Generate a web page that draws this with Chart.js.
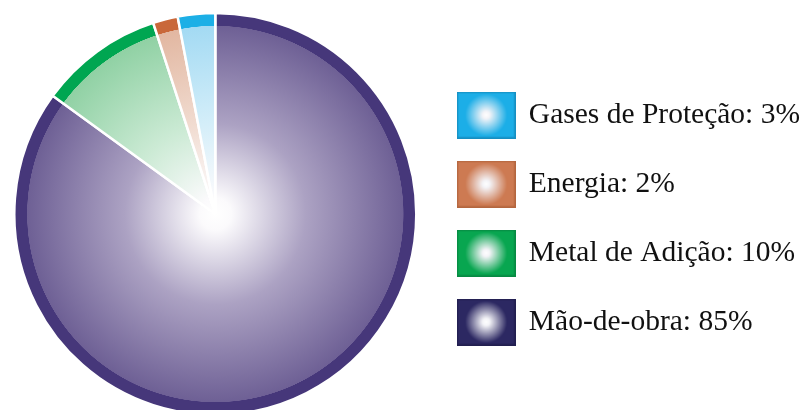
<!DOCTYPE html>
<html><head><meta charset="utf-8">
<script src="https://cdn.jsdelivr.net/npm/chart.js@4/dist/chart.umd.min.js"></script>
<style>html,body{margin:0;padding:0;background:#fff;}#wrap{width:802px;height:410px;position:relative;}</style>
</head><body><div id="wrap"><canvas id="c"></canvas></div>
<script>
// ---- data ----
const categories = ['Mão-de-obra', 'Metal de Adição', 'Energia', 'Gases de Proteção'];
const shares = [85, 10, 2, 3];
const legendOrder = [3, 2, 1, 0];

// ---- colours ----
const bandColors = ['#46377a', '#00a651', '#c9683a', '#1cafe6'];
const edgeColors = ['#6e6095', '#90d1a4', '#e2b7a1', '#a3daf3'];
const midColors  = ['#aca2c3', '#cbead4', '#f1dcd1', '#d4eef9'];
const boxColors  = ['#2c2862', '#08a650', '#cd7a52', '#1caee7'];
const boxBorders = ['#221f50', '#078a43', '#b4663f', '#168fc2'];

const PIE_R = 201;
const BAND = 13;

function makeBox(i) {
  const c = document.createElement('canvas');
  c.width = 59; c.height = 47;
  const x = c.getContext('2d');
  const g = x.createRadialGradient(29.5, 23.5, 0, 29.5, 23.5, 30);
  g.addColorStop(0, '#ffffff');
  g.addColorStop(0.12, '#f4f4f8');
  g.addColorStop(0.7, boxColors[i]);
  g.addColorStop(1, boxColors[i]);
  x.fillStyle = g;
  x.fillRect(0, 0, 59, 47);
  x.strokeStyle = boxBorders[i];
  x.lineWidth = 1.5;
  x.strokeRect(0.75, 0.75, 57.5, 45.5);
  return c;
}
const boxImages = categories.map((_, i) => makeBox(i));

function sliceFill(ctx) {
  const i = ctx.dataIndex;
  if (i === undefined) return '#888';
  const ch = ctx.chart, a = ch.chartArea;
  if (!a) return edgeColors[i];
  const cx = (a.left + a.right) / 2, cy = (a.top + a.bottom) / 2;
  const g = ch.ctx.createRadialGradient(cx, cy, 0, cx, cy, PIE_R);
  const k = (PIE_R - BAND) / PIE_R;
  g.addColorStop(0, '#ffffff');
  g.addColorStop(0.08, '#fbfafc');
  g.addColorStop(0.45, midColors[i]);
  g.addColorStop(k, edgeColors[i]);
  g.addColorStop(k + 0.002, bandColors[i]);
  g.addColorStop(1, bandColors[i]);
  return g;
}

new Chart(document.getElementById('c'), {
  type: 'pie',
  data: {
    labels: categories,
    datasets: [{
      data: shares,
      backgroundColor: sliceFill,
      borderColor: '#ffffff',
      borderWidth: 2.5,
      radius: PIE_R
    }]
  },
  options: {
    responsive: true,
    maintainAspectRatio: false,
    animation: false,
    events: [],
    layout: { padding: { left: 12, right: -8, top: 18, bottom: 0 } },
    plugins: {
      tooltip: { enabled: false },
      legend: {
        position: 'right',
        align: 'center',
        title: { display: true, text: '', padding: 0, font: { size: 10, lineHeight: 0.9 } },
        labels: {
          usePointStyle: true,
          pointStyleWidth: 56,
          padding: 39.5,
          color: '#111',
          font: { family: '"Liberation Serif", "Times New Roman", serif', size: 29.5 },
          generateLabels: (chart) => legendOrder.map(i => ({
            text: categories[i] + ': ' + shares[i] + '%',
            pointStyle: boxImages[i],
            fillStyle: boxColors[i],
            strokeStyle: boxBorders[i],
            lineWidth: 0,
            fontColor: '#111',
            hidden: false,
            index: i
          }))
        }
      }
    }
  }
});
</script>
</body></html>
